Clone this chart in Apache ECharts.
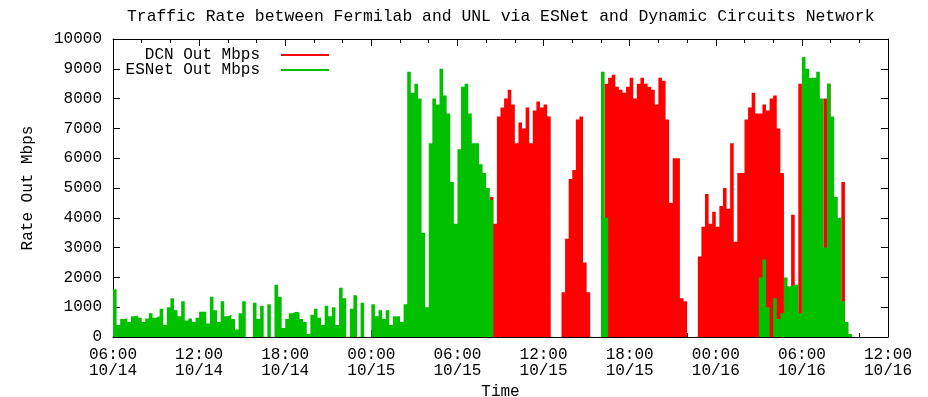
<!DOCTYPE html>
<html><head><meta charset="utf-8">
<script src="https://cdn.jsdelivr.net/npm/echarts@6/dist/echarts.min.js"></script>
<style>html,body{margin:0;padding:0;background:#fff}#c{width:928px;height:397px}</style>
</head><body><div id="c"></div>
<script>
// time base: hour 0 = 06:00 10/14, one value per 15-minute slot
const slotHours = 0.25;
const xTickLabels = ['06:00\n10/14','12:00\n10/14','18:00\n10/14','00:00\n10/15','06:00\n10/15','12:00\n10/15','18:00\n10/15','00:00\n10/16','06:00\n10/16','12:00\n10/16'];
const seriesNames = ['DCN Out Mbps','ESNet Out Mbps'];

const esnetStartHour = 0;
const esnetMbps = [
  1600,400,600,620,500,700,720,650,500,620,
  800,650,700,950,400,1000,1300,900,700,1200,
  550,620,500,650,850,850,450,1350,900,500,
  1200,700,750,600,250,800,1200,0,0,1150,
  600,1050,0,1100,0,1750,1350,300,600,800,
  850,820,600,500,100,750,950,650,400,1050,
  700,1000,400,1650,1300,0,950,1400,0,1150,
  0,0,1100,700,900,600,900,400,700,700,
  500,1100,8900,8200,8500,8000,3500,1000,6500,8000,
  7800,9000,8100,7500,5200,3800,6300,8400,8500,7500,
  6500,6500,5800,5500,5000,4600,0,0,0,0,
  0,0,0,0,0,0,0,0,0,0,
  0,0,0,0,0,0,0,0,0,0,
  0,0,0,0,0,0,8900,4000,0,0,
  0,0,0,0,0,0,0,0,0,0,
  0,0,0,0,0,0,0,0,0,0,
  0,0,0,0,0,0,0,0,0,0,
  0,0,0,0,0,0,0,0,0,0,
  2000,2600,1000,0,1300,600,800,2000,1700,1750,
  1750,800,9400,9000,8700,8700,8900,8000,3000,8500,
  7400,4700,4000,1200,500,100
];

const dcnStartHour = 26.25;
const dcnMbps = [
  4700,3800,7400,7700,8000,8300,7800,6500,7200,7000,
  7700,6500,7600,7900,7700,7800,7400,0,0,0,
  1500,3300,5300,5600,7300,7400,2500,1500,0,0,
  0,0,8500,8700,8800,8400,8300,8200,8400,8700,
  8000,8500,8700,8500,8400,8300,7800,8700,8600,7300,
  4500,6000,6000,1300,1200,0,0,0,2700,3700,
  4800,3800,4200,3700,4400,5000,4300,6500,3200,5500,
  5500,7300,7700,8200,7500,7500,7800,7600,8000,8100,
  7000,5500,0,0,4100,500,8500,0,0,0,
  0,0,0,8000,8500,0,0,0,5200,0
];

function toPoints(values, startHour) {
  const pts = values.map((v, i) => [startHour + i * slotHours, v]);
  pts.push([startHour + values.length * slotHours, 0]);
  return pts;
}

const FONT = 'Liberation Mono';
const FS = 16;
const chart = echarts.init(document.getElementById('c'), null, {renderer: 'canvas'});

const axisLineStyle = {show: true, onZero: false, lineStyle: {color: '#000', width: 1}};
const legendBase = {
  orient: 'vertical', align: 'right', right: 594, icon: 'rect',
  itemWidth: 48, itemHeight: 2, itemGap: 0,
  textStyle: {fontFamily: FONT, fontSize: FS, color: '#000', padding: [0, 16, 0, 0]}
};

chart.setOption({
  animation: false,
  backgroundColor: '#fff',
  title: {
    text: 'Traffic Rate between Fermilab and UNL via ESNet and Dynamic Circuits Network',
    left: 122, top: 4,
    textStyle: {fontFamily: FONT, fontSize: 16.4, fontWeight: 'normal', color: '#000'}
  },
  legend: [
    Object.assign({}, legendBase, {data: [seriesNames[0]], top: 42}),
    Object.assign({}, legendBase, {data: [seriesNames[1]], top: 57})
  ],
  grid: {left: 113, right: 40, top: 39, bottom: 60, outerBoundsMode: 'none', containLabel: false},
  xAxis: [
    {
      type: 'value', min: 0, max: 54, interval: 6, position: 'bottom',
      axisLine: axisLineStyle,
      axisTick: {show: true, inside: true, length: 7, lineStyle: {color: '#000'}},
      minorTick: {show: true, splitNumber: 3, length: 4, lineStyle: {color: '#000'}},
      splitLine: {show: false}, minorSplitLine: {show: false},
      axisLabel: {
        formatter: v => xTickLabels[Math.round(v / 6)],
        fontFamily: FONT, fontSize: FS, color: '#000', lineHeight: 16, margin: 10
      },
      name: 'Time', nameLocation: 'middle', nameGap: 47,
      nameTextStyle: {fontFamily: FONT, fontSize: FS, color: '#000'}
    },
    {
      type: 'value', min: 0, max: 54, interval: 6, position: 'top',
      axisLine: axisLineStyle,
      axisTick: {show: true, inside: true, length: 7, lineStyle: {color: '#000'}},
      minorTick: {show: true, splitNumber: 3, length: 4, lineStyle: {color: '#000'}},
      splitLine: {show: false}, axisLabel: {show: false}
    }
  ],
  yAxis: [
    {
      type: 'value', min: 0, max: 10000, interval: 1000, position: 'left',
      axisLine: axisLineStyle,
      axisTick: {show: true, inside: true, length: 7, lineStyle: {color: '#000'}},
      splitLine: {show: false},
      axisLabel: {formatter: v => String(v), fontFamily: FONT, fontSize: FS, color: '#000', margin: 11},
      name: 'Rate Out Mbps', nameLocation: 'middle', nameGap: 77, nameRotate: 90,
      nameTextStyle: {fontFamily: FONT, fontSize: FS, color: '#000'}
    },
    {
      type: 'value', min: 0, max: 10000, interval: 1000, position: 'right',
      axisLine: axisLineStyle,
      axisTick: {show: true, inside: true, length: 7, lineStyle: {color: '#000'}},
      splitLine: {show: false}, axisLabel: {show: false}
    }
  ],
  series: [
    {
      name: seriesNames[0], type: 'line', step: 'end', symbol: 'none', silent: true,
      data: toPoints(dcnMbps, dcnStartHour),
      itemStyle: {color: '#ff0000'},
      lineStyle: {color: '#ff0000', width: 0},
      areaStyle: {color: '#ff0000', opacity: 1},
      z: 2
    },
    {
      name: seriesNames[1], type: 'line', step: 'end', symbol: 'none', silent: true,
      data: toPoints(esnetMbps, esnetStartHour),
      itemStyle: {color: '#00c000'},
      lineStyle: {color: '#00c000', width: 0},
      areaStyle: {color: '#00c000', opacity: 1},
      z: 3
    }
  ]
});
</script>
</body></html>
